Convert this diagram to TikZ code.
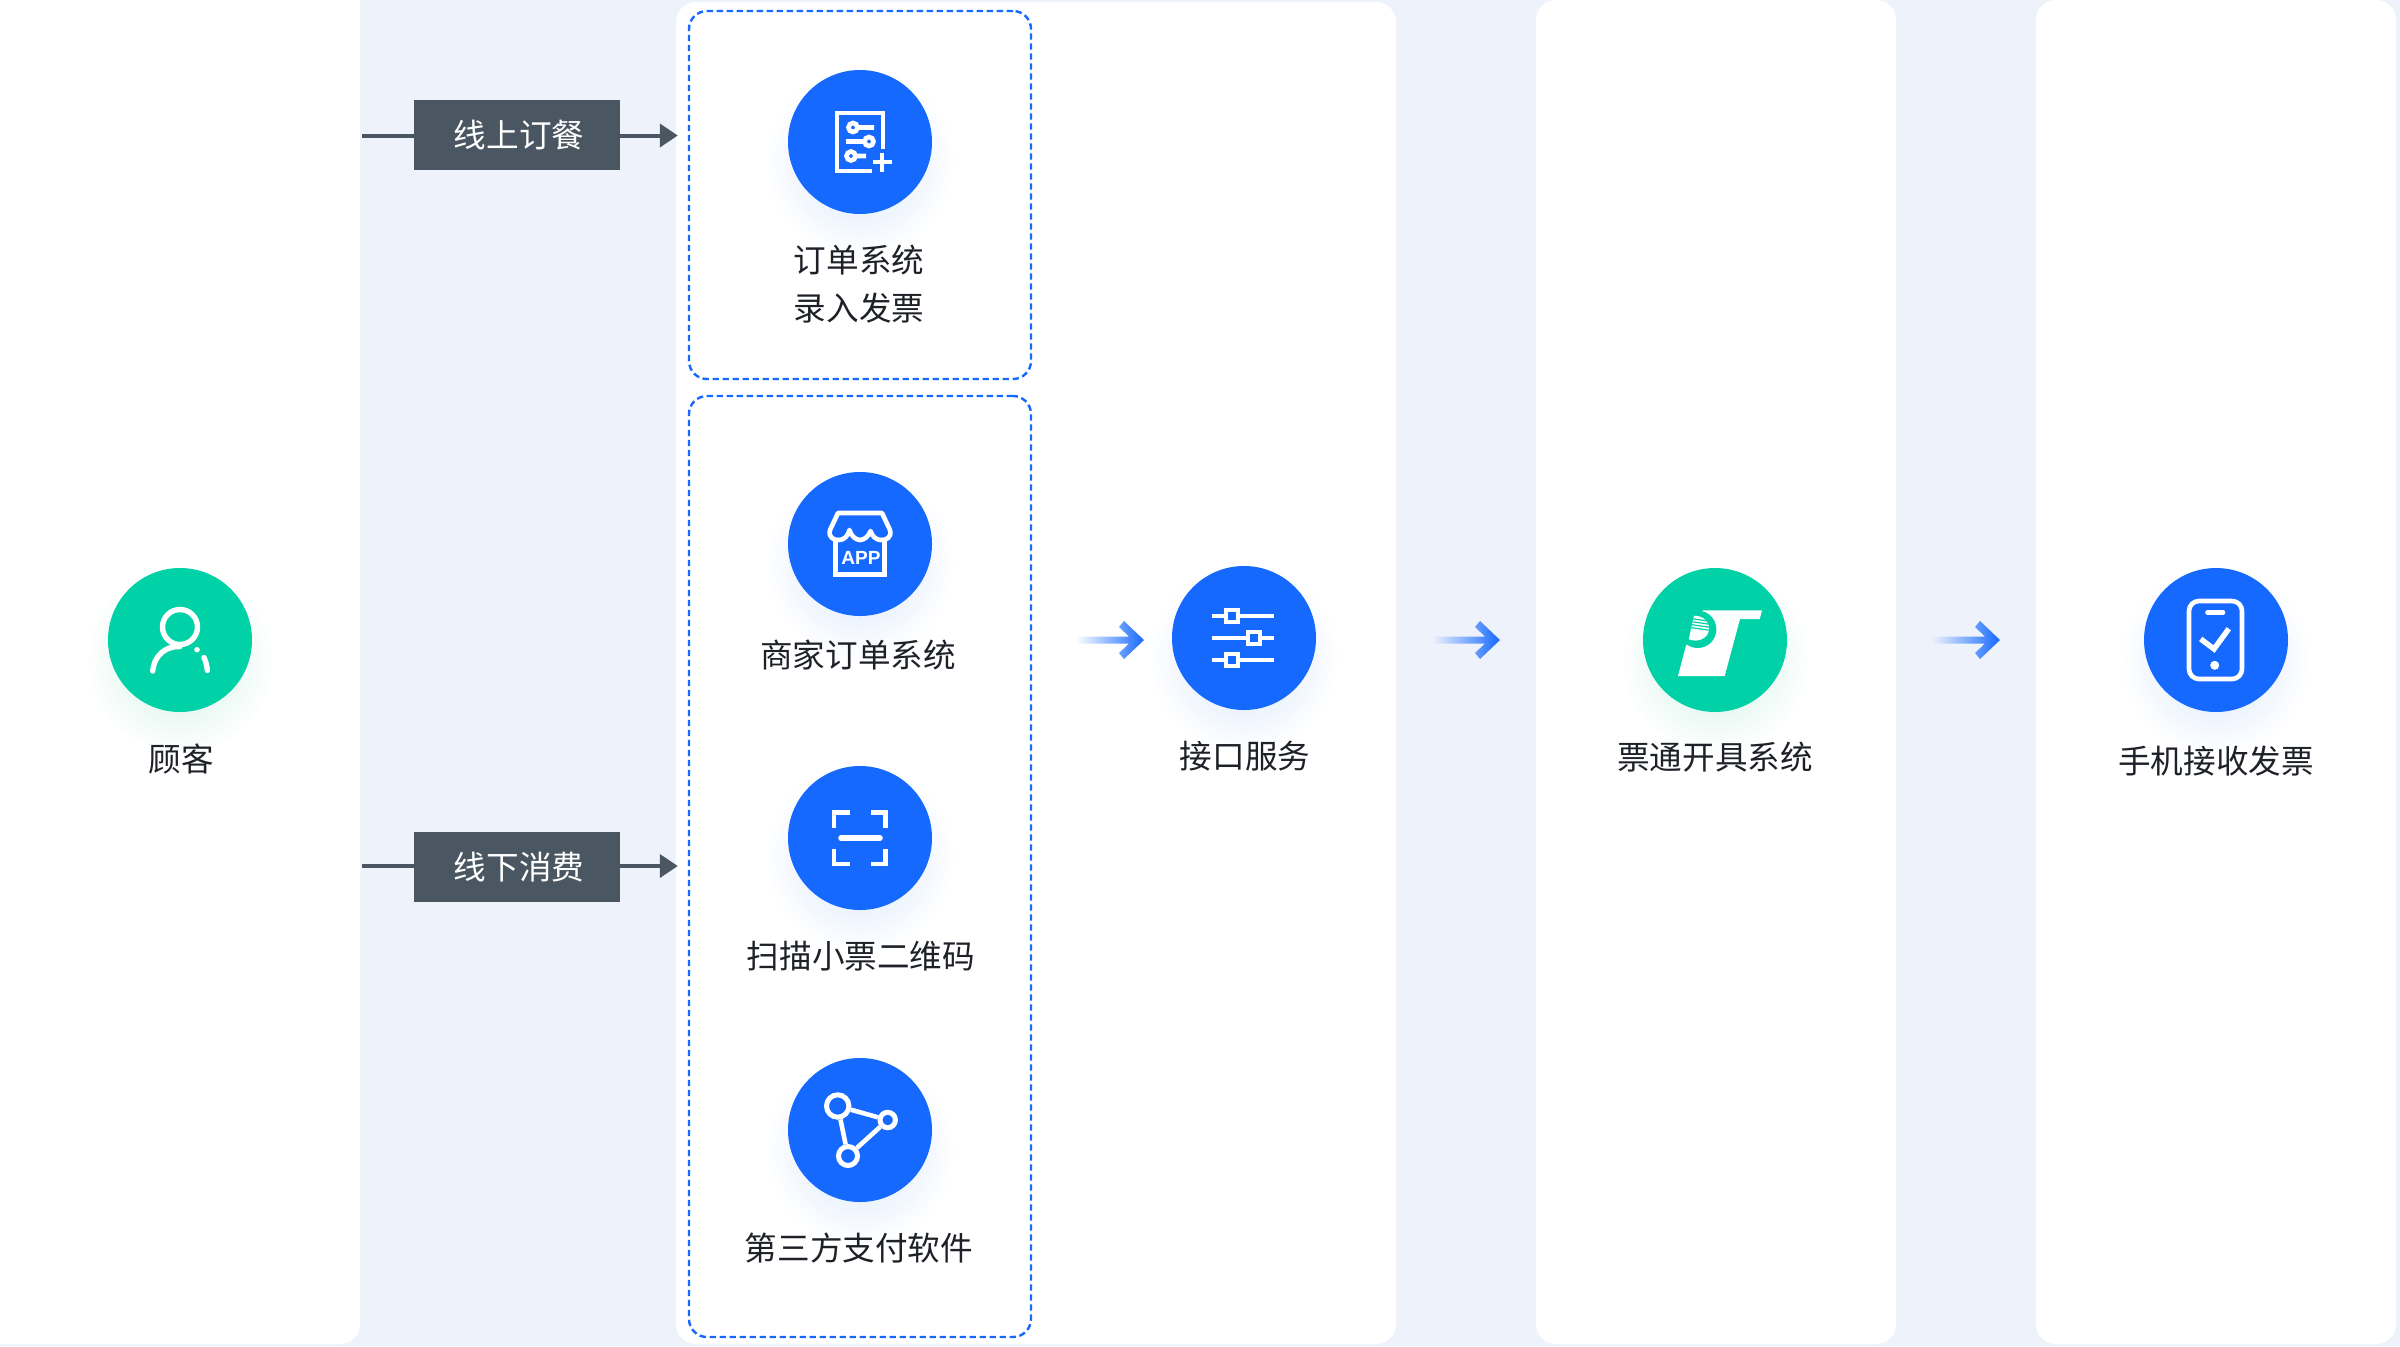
\documentclass[tikz,border=0pt]{standalone}
\usepackage{fontspec}
\setmainfont{Noto Sans CJK SC}
\newfontfamily\latinbold{Liberation Sans}
\usetikzlibrary{positioning}
\usetikzlibrary{calc}
\usetikzlibrary{arrows.meta}

\definecolor{pagebg}{HTML}{EEF3FB}
\definecolor{mainblue}{HTML}{1669FF}
\definecolor{maingreen}{HTML}{00D1A6}
\definecolor{slate}{HTML}{4A5661}
\definecolor{inktext}{HTML}{1E2228}
\definecolor{glowblue}{HTML}{D6E6FD}
\definecolor{glowgreen}{HTML}{CEF1E6}

\tikzset{
  panel/.style={fill=white, rounded corners=10pt},
  dashbox/.style={draw=mainblue, line width=1.2pt, dash pattern=on 3.2pt off 1.8pt, rounded corners=9pt, rectangle, minimum width=171pt, inner sep=0pt},
  disc/.style={circle, fill=#1, minimum size=72pt, inner sep=0pt},
  caption/.style={text=inktext, font=\fontsize{16.3pt}{24pt}\selectfont, align=center, inner sep=0pt},
  tagbox/.style={rectangle, fill=slate, text=white, minimum width=103pt, minimum height=35pt, inner sep=0pt, font=\fontsize{16.3pt}{24pt}\selectfont},
  tagline/.style={draw=slate, line width=2pt},
  flow/.style={left color=#1, middle color=mainblue!80!#1, right color=mainblue},
  icon/.style={draw=white, line width=2.3pt, fill=none},
  ring/.style={circle, draw=white, line width=2.5pt, inner sep=0pt},
}

\begin{document}
\begin{tikzpicture}[x=0.5pt, y=-0.5pt]
\useasboundingbox (0,0) rectangle (2400,1346);

\fill[pagebg] (0,0) rectangle (2400,1346);
\fill[panel] (-40,-40) rectangle (360,1344);
\fill[panel] (676,2) rectangle (1396,1344);
\fill[panel] (1536,0) rectangle (1896,1344);
\fill[panel] (2036,0) rectangle (2396,1344);

\node[dashbox, minimum height=184pt] (BOXA) at (860,195) {};
\node[dashbox, minimum height=470.5pt] (BOXB) at (860,866.5) {};

% soft glow under each disc
\shade[inner color=glowgreen, outer color=white] (180,660) circle (95);
\shade[inner color=glowblue, outer color=white] (860,162) circle (95);
\shade[inner color=glowblue, outer color=white] (860,564) circle (95);
\shade[inner color=glowblue, outer color=white] (860,858) circle (95);
\shade[inner color=glowblue, outer color=white] (860,1150) circle (95);
\shade[inner color=glowblue, outer color=white] (1244,658) circle (95);
\shade[inner color=glowgreen, outer color=white] (1715,660) circle (95);
\shade[inner color=glowblue, outer color=white] (2216,660) circle (95);

\node[disc=maingreen] (CUSTOMER) at (180,640) {};
\node[disc=mainblue] (ORDER) at (860,142) {};
\node[disc=mainblue] (SHOP) at (860,544) {};
\node[disc=mainblue] (SCAN) at (860,838) {};
\node[disc=mainblue] (THIRD) at (860,1130) {};
\node[disc=mainblue] (API) at (1244,638) {};
\node[disc=maingreen] (TONG) at (1715,640) {};
\node[disc=mainblue] (PHONE) at (2216,640) {};

\node[caption] (CUSTOMERTXT) at (181,759) {顾客};
\node[caption] (ORDERTXT) at (859,284) {订单系统\\录入发票};
\node[caption] (SHOPTXT) at (858,655) {商家订单系统};
\node[caption] (SCANTXT) at (861,956) {扫描小票二维码};
\node[caption] (THIRDTXT) at (859,1248) {第三方支付软件};
\node[caption] (APITXT) at (1245,756) {接口服务};
\node[caption] (TONGTXT) at (1715,757) {票通开具系统};
\node[caption] (PHONETXT) at (2216,761) {手机接收发票};

\node[tagbox] (ONLINE) at (517,135) {\hspace*{2pt}线上订餐};
\node[tagbox] (OFFLINE) at (517,867) {\hspace*{2pt}线下消费};
\coordinate (ONLINEIN) at (362,135.5);
\coordinate (OFFLINEIN) at (362,866);

\draw[tagline] (ONLINEIN) -- (ONLINEIN -| ONLINE.west);
\draw[tagline] (OFFLINEIN) -- (OFFLINEIN -| OFFLINE.west);
\draw[tagline, -{Triangle[length=9pt, width=11.5pt]}, shorten >=5pt] (ONLINE.east |- ONLINEIN) -- (ONLINEIN -| BOXA.west);
\draw[tagline, -{Triangle[length=9pt, width=11.5pt]}, shorten >=5pt] (OFFLINE.east |- OFFLINEIN) -- (OFFLINEIN -| BOXB.west);

% gradient arrows between the panels
\coordinate (FLOWA) at (1076,640);
\coordinate (FLOWB) at (1432,640);
\coordinate (FLOWC) at (1932,640);
\shade[flow=white] (FLOWA) ++(0,-3.5) -- ++(53,0) -- ++(-10,-9.5) -- ++(5,-6) -- ++(20,19) -- ++(-20,19) -- ++(-5,-6) -- ++(10,-9.5) -- ++(-53,0) -- cycle;
\shade[flow=pagebg] (FLOWB) ++(0,-3.5) -- ++(53,0) -- ++(-10,-9.5) -- ++(5,-6) -- ++(20,19) -- ++(-20,19) -- ++(-5,-6) -- ++(10,-9.5) -- ++(-53,0) -- cycle;
\shade[flow=pagebg] (FLOWC) ++(0,-3.5) -- ++(53,0) -- ++(-10,-9.5) -- ++(5,-6) -- ++(20,19) -- ++(-20,19) -- ++(-5,-6) -- ++(10,-9.5) -- ++(-53,0) -- cycle;

% person
\begin{scope}[shift={(CUSTOMER)}]
\draw[icon, line width=2.7pt] (0,-13) circle (17.5);
\draw[icon, line width=2.7pt, line cap=round] (-27.3,31) .. controls (-26,16) and (-15,6) .. (0,6.5);
\draw[icon, line width=2.7pt, line cap=round] (24,17.5) .. controls (26,22) and (27,26) .. (27.3,30.5);
\fill[white] (17,9.7) circle (2.8);
\end{scope}

% order sheet
\begin{scope}[shift={(ORDER)}]
\draw[icon] (23,6.5) -- (23,-29) -- (-23,-29) -- (-23,29) -- (11.5,29);
\draw[icon] (-7,-14.5) circle (4.5) (-2.5,-14.5) -- (14,-14.5);
\draw[icon] (9,-0.5) circle (4.5) (4.5,-0.5) -- (-14,-0.5);
\draw[icon] (-9,14) circle (4.5) (-4.5,14) -- (6,14);
\draw[icon] (12.5,20) -- (32,20) (22,10.5) -- (22,30);
\end{scope}

% shop
\begin{scope}[shift={(SHOP)}]
\draw[icon, line join=round] (-22,-31) -- (22,-31) -- (30,-14) .. controls (32,-6) and (26,-4) .. (21,-4) .. controls (16,-4) and (12,-8) .. (10.5,-13) .. controls (9,-8) and (4,-4) .. (0,-4) .. controls (-4,-4) and (-9,-8) .. (-10.5,-14) .. controls (-12,-8) and (-16,-4) .. (-21,-4) .. controls (-26,-4) and (-32,-6) .. (-30,-14) -- cycle;
\draw[icon] (-24.5,-4) -- (-24.5,30.5) -- (24.5,30.5) -- (24.5,-4);
\node[text=white, inner sep=0pt, font=\latinbold\bfseries\fontsize{9.5pt}{10pt}\selectfont] (APPTXT) at (1,13.5) {APP};
\end{scope}

% scan frame
\begin{scope}[shift={(SCAN)}]
\draw[icon] (-26,-10.5) -- (-26,-25.7) -- (-10.5,-25.7);
\draw[icon] (11,-25.7) -- (25.7,-25.7) -- (25.7,-10.5);
\draw[icon] (-26,11) -- (-26,26) -- (-10.5,26);
\draw[icon] (11,26) -- (25.7,26) -- (25.7,11);
\draw[icon, line width=2.8pt, line cap=round] (-19,0) -- (20,0);
\end{scope}

% three linked rings
\begin{scope}[shift={(THIRD)}]
\node[ring, minimum size=11.2pt] (RINGA) at (-22.3,-24) {};
\node[ring, minimum size=7.7pt] (RINGB) at (27.7,-10) {};
\node[ring, minimum size=9.5pt] (RINGC) at (-12,26) {};
\draw[icon] (RINGA) -- (RINGB);
\draw[icon] (RINGB) -- (RINGC);
\draw[icon] (RINGC) -- (RINGA);
\end{scope}

% sliders
\begin{scope}[shift={(API)}]
\draw[icon] (-32,-22) -- (30,-22) (-32,0) -- (30,0) (-32,22) -- (30,22);
\draw[icon, fill=mainblue] (-18,-28) rectangle (-6,-16);
\draw[icon, fill=mainblue] (4,-6) rectangle (16,6);
\draw[icon, fill=mainblue] (-18,16) rectangle (-6,28);
\end{scope}

% logo
\begin{scope}[shift={(TONG)}]
\fill[white] (-12.3,-29.7) -- (47,-29.7) -- (44.7,-21) -- (25,-21) -- (9.7,36) -- (-37,36) -- (-29.3,6.7) -- cycle;
\fill[maingreen] (-17.3,-10.7) circle (18.7);
\begin{scope}
\clip (-21,-24.3) .. controls (-11.7,-24.3) and (-5.7,-18.3) .. (-6,-11) .. controls (-6.3,-2.7) and (-15.7,3.3) .. (-26.3,-0.7) -- cycle;
\fill[white] (-30,-30) rectangle (0,10);
\draw[maingreen, line width=0.6pt] (-28,-22) -- (0,-18) (-28,-19) -- (0,-15) (-28,-16) -- (0,-12) (-28,-13) -- (0,-9);
\end{scope}
\end{scope}

% phone
\begin{scope}[shift={(PHONE)}]
\draw[icon, rounded corners=5pt] (-27,-39) rectangle (26,39);
\draw[icon, line cap=round] (-8.5,-27.5) -- (7,-27.5);
\draw[icon, line width=2.7pt] (-15.3,-1) -- (-2,9) -- (12.8,-11.3);
\fill[white] (-1.3,25.3) circle (4.5);
\end{scope}

\end{tikzpicture}
\end{document}
